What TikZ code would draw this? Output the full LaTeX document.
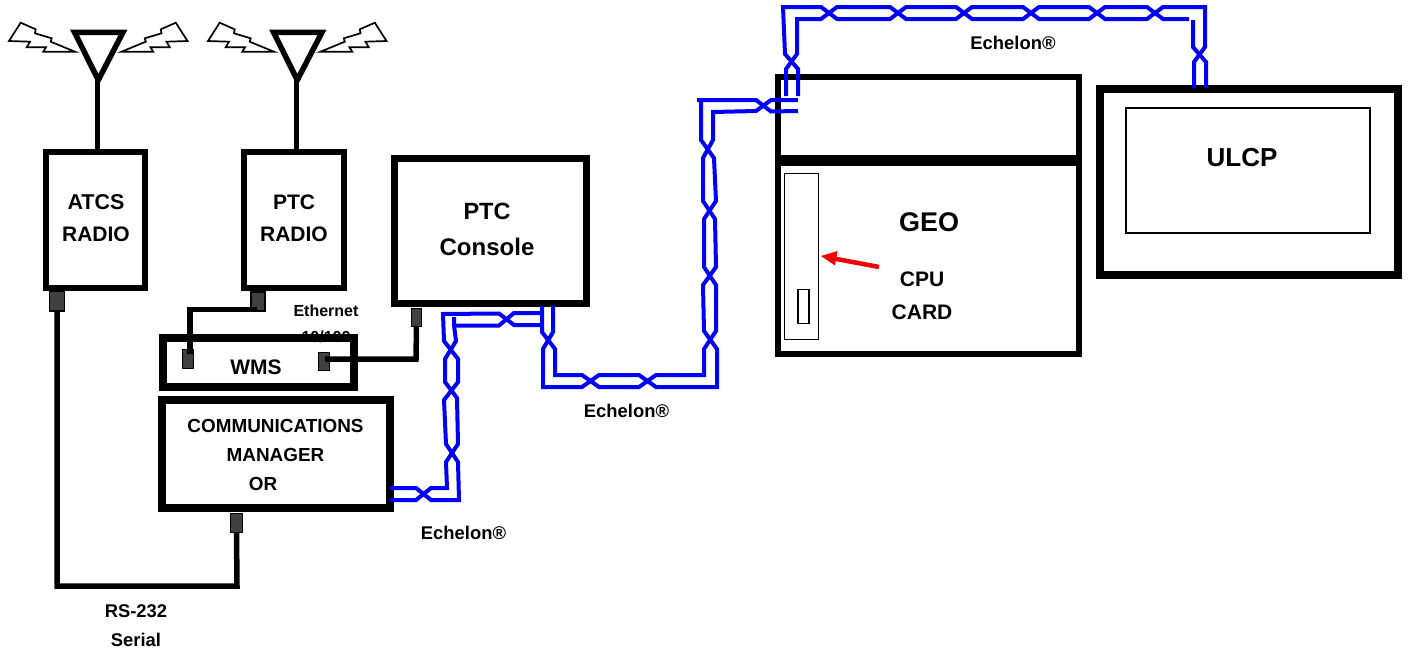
\documentclass[tikz,border=0pt]{standalone}
\usepackage{fontspec}
\setmainfont{Liberation Sans}
\definecolor{stubgrey}{HTML}{404040}
\definecolor{pairblue}{HTML}{0000F5}
\definecolor{arrowred}{HTML}{F50000}
\tikzset{
  box/.style={draw=black,fill=none,rectangle,inner sep=0pt,outer sep=0pt},
  stub/.style={draw=black,fill=stubgrey,line width=1.2pt,rectangle,inner sep=0pt,outer sep=0pt},
  wire/.style={draw=black,line width=5.5pt},
  pair/.style={draw=pairblue,line width=4pt,line join=miter},
  bolt/.style={draw=black,line width=1.7pt,fill=white,line join=miter},
  lbl/.style={font=\bfseries,inner sep=0pt,text=black,anchor=center},
}
\newcommand{\lblsize}[1]{\fontsize{#1}{#1}\selectfont\bfseries}
\begin{document}
\begin{tikzpicture}[x=1pt,y=-1pt]
\useasboundingbox (0,0) rectangle (1409,651);
% label hidden behind the WMS box edge
\node[lbl] (eth1) at (326,311) {\lblsize{16}Ethernet};
\node[lbl] (eth2) at (326,337) {\lblsize{16}10/100};
% boxes
\node[box,line width=6pt,minimum width=99pt,minimum height=136pt] (atcs) at (95.5,220) {};
\node[box,line width=6pt,minimum width=100pt,minimum height=136pt] (ptcr) at (294,220) {};
\node[box,line width=7pt,minimum width=192pt,minimum height=145pt] (console) at (490.5,231) {};
\node[box,line width=8pt,minimum width=191pt,minimum height=49pt] (wms) at (258.5,362.5) {};
\node[box,line width=8pt,minimum width=228pt,minimum height=108pt] (comm) at (276,454) {};
\node[box,line width=5.5pt,minimum width=301pt,minimum height=84pt] (geotop) at (928.5,119) {};
\node[box,line width=5.5pt,minimum width=301pt,minimum height=194pt] (geo) at (928.5,257) {};
\draw[line width=11pt] (geo.north west) ++(0,0.5) -- ([yshift=-0.5pt]geo.north east);
\node[box,line width=1.6pt,minimum width=34pt,minimum height=166pt] (card) at (801.5,256.5) {};
\node[box,line width=1.6pt,minimum width=11pt,minimum height=34pt] (slot) at (803.5,306.5) {};
\node[box,line width=8pt,minimum width=298pt,minimum height=186pt] (ulcp) at (1249,181.5) {};
\node[box,line width=1.6pt,minimum width=244pt,minimum height=125pt] (ulcpin) at (1248,170.5) {};
% antennas
\foreach \dx/\nm in {0/a,199/b}{
  \begin{scope}[xshift=\dx pt]
    \draw[bolt] (20.7,22.7) -- (35.7,29.3) -- (35,33.3) -- (51.7,38.3) -- (50.7,41.7) -- (75,51.7) -- (43.3,51.7) -- (46,47.3) -- (26.7,47.3) -- (30,41.7) -- (9,41) -- cycle;
    \draw[bolt] (175.8,22.7) -- (160.8,29.3) -- (161.5,33.3) -- (144.8,38.3) -- (145.8,41.7) -- (121.5,51.7) -- (153.2,51.7) -- (150.5,47.3) -- (169.8,47.3) -- (166.5,41.7) -- (187.5,41) -- cycle;
    \draw[line width=5.5pt,line join=miter] (74.5,32.3) -- (123,32.3) -- (98.3,80) -- cycle;
    \coordinate (tip\nm) at (97.5,80);
  \end{scope}
}
\draw[line width=4.5pt] (tipa) -- (tipa |- atcs.north);
\draw[line width=4.5pt] (tipb) -- (tipb |- ptcr.north);
% stubs
\node[stub,minimum width=15pt,minimum height=20pt] (s1) at (57,301) {};
\node[stub,minimum width=14pt,minimum height=19pt] (s2) at (258,301.5) {};
\node[stub,minimum width=10.5pt,minimum height=18pt] (s3) at (416.5,317.5) {};
\node[stub,minimum width=11pt,minimum height=19pt] (s4) at (188,359) {};
\node[stub,minimum width=11pt,minimum height=18pt] (s5) at (324,361.5) {};
\node[stub,minimum width=11.5pt,minimum height=19pt] (s6) at (236.5,523) {};
% wires
\coordinate (c1) at (57,586);
\coordinate (c2) at (237,586);
\coordinate (c3) at (257,309.5);
\coordinate (c4) at (190,309.5);
\coordinate (c5) at (190,354);
\coordinate (c6) at (416,359);
\coordinate (c7) at (325,359);
\draw[wire,line join=miter] (s1.south) -- (c1) -- (c2) -- (s6.south);
\draw[wire] (c3) -- (c4) -- (c5);
\draw[wire] (s3.south) -- (c6) -- (c7);
% twisted pair: WMS side
\coordinate (p1a) at (390,488); \coordinate (p1b) at (390,500);
\coordinate (p1c) at (441,314); \coordinate (p1d) at (454,317);
\coordinate (p1e) at (540,313); \coordinate (p1f) at (540,325);
\draw[pair] (p1a) -- (416,488) -- (431,500) -- (459,500) -- (458,462) -- (446,444) -- (444,400) -- (458,382) -- (458,359) -- (444,341) -- (443,314) -- (p1c);
\draw[pair] (p1b) -- (416,500) -- (431,488) -- (447,488) -- (446,462) -- (458,444) -- (457,398) -- (445,382) -- (445,359) -- (456,341) -- (454,325) -- (p1d);
\draw[pair] (p1c) -- (499,313.5) -- (514,325) -- (p1f);
\draw[pair] (454,325.5) -- (499,325.5) -- (514,313) -- (p1e);
% twisted pair: console to GEO
\coordinate (p2a) at (542,306); \coordinate (p2b) at (553,306);
\coordinate (p2c) at (798,100); \coordinate (p2d) at (798,111);
\draw[pair] (p2a) -- (542,332) -- (555,349) -- (555,375) -- (582,375) -- (599,387) -- (639,387) -- (656,375) -- (704,375) -- (704,349) -- (716,331) -- (716,285) -- (704,267) -- (704,219) -- (716,201) -- (714,158) -- (701,140) -- (701,100);
\draw[pair] (p2b) -- (553,332) -- (543,349) -- (543,387) -- (582,387) -- (599,375) -- (639,375) -- (656,387) -- (717,387) -- (717,349) -- (704,331) -- (703,285) -- (716,267) -- (715,219) -- (703,201) -- (703,158) -- (713,140) -- (713,112) -- (756,111) -- (771,100) -- (p2c);
\draw[pair] (697,100) -- (756,100) -- (771,111.5) -- (p2d);
% twisted pair: GEO to ULCP
\coordinate (p3a) at (786,96); \coordinate (p3b) at (798,96);
\coordinate (p3c) at (1194,88); \coordinate (p3d) at (1206,88);
\draw[pair] (p3a) -- (786,69) -- (797,54) -- (797,19) -- (821,19) -- (837,7) -- (890,7) -- (906,19) -- (956,19) -- (972,7) -- (1023,7) -- (1039,19) -- (1089,19) -- (1105,7) -- (1147,7) -- (1163,19) -- (1189,19);
\draw[pair] (p3b) -- (798,69) -- (785,54) -- (783,7) -- (821,7) -- (837,19) -- (890,19) -- (906,7) -- (956,7) -- (972,19) -- (1023,19) -- (1039,7) -- (1089,7) -- (1105,19) -- (1147,19) -- (1163,7) -- (1207,7);
\draw[pair] (1205,7) -- (1205,47) -- (1194,62) -- (p3c);
\draw[pair] (1193,20) -- (1193,47) -- (1206,62) -- (p3d);
% red arrow
\coordinate (r1) at (879,267);
\coordinate (r2) at (821,256);
\draw[arrowred,line width=4.5pt] (r1) -- (834,258.5);
\fill[arrowred] (r2) -- (837.5,251) -- (835,265.5) -- cycle;
% labels
\node[lbl] (t1) at (96,202) {\lblsize{21.5}ATCS};
\node[lbl] (t2) at (96,234) {\lblsize{21}RADIO};
\node[lbl] (t3) at (294,202) {\lblsize{21}PTC};
\node[lbl] (t4) at (294,234) {\lblsize{21}RADIO};
\node[lbl] (t5) at (487,211) {\lblsize{23.5}PTC};
\node[lbl] (t6) at (487,247) {\lblsize{24}Console};
\node[lbl] (t7) at (256,367.5) {\lblsize{21}WMS};
\node[lbl] (t8) at (275.5,426) {\lblsize{18.9}COMMUNICATIONS};
\node[lbl] (t9) at (275.5,455) {\lblsize{18.9}MANAGER};
\node[lbl] (t10) at (263,484) {\lblsize{18.9}OR};
\node[lbl] (t11) at (929,222) {\lblsize{27}GEO};
\node[lbl] (t12) at (922,279) {\lblsize{21}CPU};
\node[lbl] (t13) at (922,312) {\lblsize{21}CARD};
\node[lbl] (t14) at (1242,158) {\lblsize{26}ULCP};
\node[lbl] (t15) at (626.5,411) {\lblsize{18.4}Echelon®};
\node[lbl] (t16) at (463.5,533) {\lblsize{18.4}Echelon®};
\node[lbl] (t17) at (1013,43) {\lblsize{18.4}Echelon®};
\node[lbl] (t18) at (136,611) {\lblsize{18.4}RS-232};
\node[lbl] (t19) at (136,640) {\lblsize{18.4}Serial};
\end{tikzpicture}
\end{document}
